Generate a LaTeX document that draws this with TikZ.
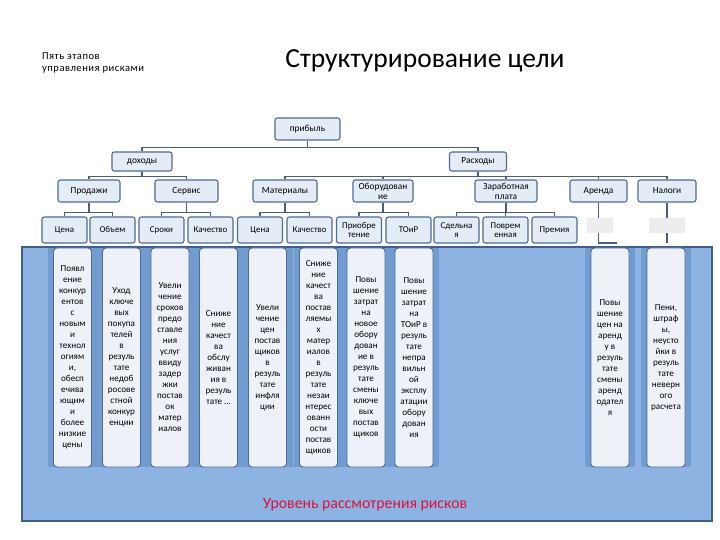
\documentclass[tikz,border=0pt]{standalone}
\usepackage{fontspec}
\setmainfont{Carlito}
\usetikzlibrary{positioning, calc}

\definecolor{bgblue}{HTML}{8DB3E2}
\definecolor{stripblue}{HTML}{729BD0}
\definecolor{frameblue}{HTML}{3E5F88}
\definecolor{boxline}{HTML}{4F6B8F}
\definecolor{boxfill}{HTML}{E4ECF6}
\definecolor{riskfill}{HTML}{EEF2F8}
\definecolor{linkgray}{HTML}{4A5E7C}
\definecolor{levelred}{HTML}{E0103C}
\definecolor{blankgray}{HTML}{EDEDED}

\begin{document}
\begin{tikzpicture}[
        x=0.03cm, y=-0.03cm,
        goal/.style={rectangle, draw=boxline, line width=0.9pt, fill=boxfill, rounded corners=2pt, inner sep=0.5pt, align=center, font=\fontsize{8}{8.6}\selectfont},
        lvltwo/.style={goal, minimum height=0.57cm},
        lvlthree/.style={goal, minimum height=0.66cm},
        lvlfour/.style={goal, minimum width=1.35cm, minimum height=0.78cm, font=\fontsize{7.6}{8.2}\selectfont},
        blank/.style={rectangle, fill=blankgray, minimum height=0.45cm},
        risk/.style={rectangle, draw=boxline, line width=0.8pt, fill=riskfill, rounded corners=3pt, minimum width=1.14cm, minimum height=6.57cm, inner sep=0pt, align=center, font=\fontsize{7.8}{9.4}\selectfont},
        link/.style={draw=linkgray, line width=1.1pt}
    ]
        \useasboundingbox (0,0) rectangle (720,540);
        \fill[white] (0,0) rectangle (720,540);
        % titles
        \node[anchor=west, align=left, font=\fontsize{9}{11}\selectfont\addfontfeatures{LetterSpace=5}] (stages) at (38,63) {Пять этапов\\управления рисками};
        \node[font=\fontsize{23.5}{26}\selectfont] (title) at (425,61) {Структурирование цели};
        % risk level area
        \node[rectangle, draw=frameblue, line width=1.4pt, fill=bgblue, minimum width=20.7cm, minimum height=8.22cm, inner sep=0pt] (level) at (367,384) {};
        \foreach \cx in {72.5, 121.5, 170, 218.5, 267.5, 318.5, 366, 414, 610, 666}
            \fill[stripblue] (\cx-25,248) rectangle (\cx+25,467);
        \node[font=\fontsize{13.5}{15}\selectfont, text=levelred] (levelname) at (365,505) {Уровень рассмотрения рисков};
        % tree
        \node[goal, minimum width=1.95cm, minimum height=0.66cm] (profit) at (307.5,129) {прибыль};
        \node[lvltwo, minimum width=1.8cm] (income) at (142,161.5) {доходы};
        \node[lvltwo, minimum width=1.71cm] (costs) at (478,161.5) {Расходы};
        \node[lvlthree, minimum width=1.86cm] (sales) at (89,191) {Продажи};
        \node[lvlthree, minimum width=1.89cm] (service) at (186.5,191) {Сервис};
        \node[lvlthree, minimum width=1.92cm] (materials) at (285,191) {Материалы};
        \node[lvlthree, minimum width=1.8cm] (equipment) at (383,191) {Оборудован\\ие};
        \node[lvlthree, minimum width=1.86cm] (wages) at (506,191) {Заработная\\плата};
        \node[lvlthree, minimum width=1.71cm] (rent) at (598.5,191) {Аренда};
        \node[lvlthree, minimum width=1.74cm] (taxes) at (667,191) {Налоги};
        \node[lvlfour] (price) at (64.5,230) {Цена};
        \node[lvlfour] (volume) at (112.5,230) {Объем};
        \node[lvlfour] (terms) at (161.5,230) {Сроки};
        \node[lvlfour] (quality) at (210.5,230) {Качество};
        \node[lvlfour] (matprice) at (260,230) {Цена};
        \node[lvlfour] (matquality) at (309.5,230) {Качество};
        \node[lvlfour] (purchase) at (359,230) {Приобре\\тение};
        \node[lvlfour] (repair) at (408.5,230) {ТОиР};
        \node[lvlfour] (piece) at (456.5,230) {Сдельна\\я};
        \node[lvlfour] (time) at (505.5,230) {Поврем\\енная};
        \node[lvlfour] (bonus) at (554.5,230) {Премия};
        \node[blank, minimum width=0.78cm] (rentblank) at (600,225.5) {};
        \node[blank, minimum width=1.08cm] (taxblank) at (667,225.5) {};
        \coordinate (rentend) at (617,243);
        \coordinate (taxend) at (667,243);
        % connectors
        \foreach \kid in {income, costs}
            \draw[link] (profit.south) -- ++(0,7) -| (\kid.north);
        \foreach \kid in {sales, service}
            \draw[link] (income.south) -- ++(0,5) -| (\kid.north);
        \foreach \kid in {materials, equipment, wages, rent, taxes}
            \draw[link] (costs.south) -- ++(0,5) -| (\kid.north);
        \foreach \kid in {price, volume}
            \draw[link] (sales.south) -- ++(0,10) -| (\kid.north);
        \foreach \kid in {terms, quality}
            \draw[link] (service.south) -- ++(0,10) -| (\kid.north);
        \foreach \kid in {matprice, matquality}
            \draw[link] (materials.south) -- ++(0,10) -| (\kid.north);
        \foreach \kid in {purchase, repair}
            \draw[link] (equipment.south) -- ++(0,10) -| (\kid.north);
        \foreach \kid in {piece, time, bonus}
            \draw[link] (wages.south) -- ++(0,10) -| (\kid.north);
        \draw[link] (rent.south) -- (rentblank.north -| rent.south);
        \draw[link] (rentblank.south -| rent.south) |- (rentend);
        \draw[link] (taxes.south) -- (taxblank.north);
        \draw[link] (taxblank.south) -- (taxend);
        % risks
        \node[risk] (r1) at (72.5,357.5) {Появл\\ение\\конкур\\ентов\\с\\новым\\и\\технол\\огиям\\и,\\обесп\\ечива\\ющим\\и\\более\\низкие\\цены};
        \node[risk] (r2) at (121.5,357.5) {Уход\\ключе\\вых\\покупа\\телей\\в\\резуль\\тате\\недоб\\росове\\стной\\конкур\\енции};
        \node[risk] (r3) at (170,357.5) {Увели\\чение\\сроков\\предо\\ставле\\ния\\услуг\\ввиду\\задер\\жки\\постав\\ок\\матер\\иалов};
        \node[risk] (r4) at (218.5,357.5) {Сниже\\ние\\качест\\ва\\обслу\\живан\\ия в\\резуль\\тате …};
        \node[risk] (r5) at (267.5,357.5) {Увели\\чение\\цен\\постав\\щиков\\в\\резуль\\тате\\инфля\\ции};
        \node[risk] (r6) at (318.5,357.5) {Сниже\\ние\\качест\\ва\\постав\\ляемы\\х\\матер\\иалов\\в\\резуль\\тате\\незаи\\нтерес\\ованн\\ости\\постав\\щиков};
        \node[risk] (r7) at (366,357.5) {Повы\\шение\\затрат\\на\\новое\\обору\\дован\\ие в\\резуль\\тате\\смены\\ключе\\вых\\постав\\щиков};
        \node[risk] (r8) at (414,357.5) {Повы\\шение\\затрат\\на\\ТОиР в\\резуль\\тате\\непра\\вильн\\ой\\эксплу\\атации\\обору\\дован\\ия};
        \node[risk] (r9) at (610,357.5) {Повы\\шение\\цен на\\аренд\\у в\\резуль\\тате\\смены\\аренд\\одател\\я};
        \node[risk] (r10) at (666,357.5) {Пени,\\штраф\\ы,\\неусто\\йки в\\резуль\\тате\\неверн\\ого\\расчета};
    \end{tikzpicture}
\end{document}
